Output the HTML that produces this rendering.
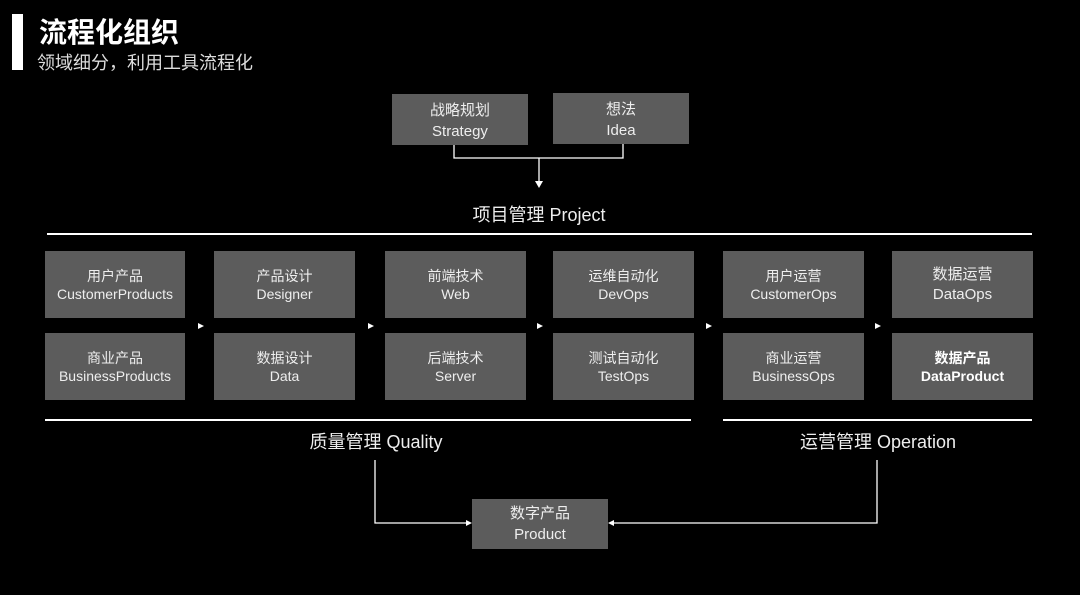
<!DOCTYPE html>
<html><head><meta charset="utf-8"><style>
body{margin:0;width:1080px;height:595px;background:#000;position:relative;overflow:hidden;font-family:"Liberation Sans","Noto Sans CJK SC",sans-serif;color:#fff}
.a{position:absolute}
.b{position:absolute;background:#5c5c5c;color:#eee;display:flex;flex-direction:column;align-items:center;justify-content:center;text-align:center;font-size:14px;line-height:18px}
.t{position:absolute;font-size:18px;color:#eee;white-space:nowrap}
.ln{position:absolute;background:#fff}
</style></head><body>
<div class="ln" style="left:12px;top:14px;width:11px;height:56px"></div>
<div class="t" style="left:39px;top:11px;font-size:28px;color:#fff;font-weight:bold">流程化组织</div>
<div class="t" style="left:37px;top:49px;font-size:18px;color:#ddd">领域细分，利用工具流程化</div>

<div class="b" style="left:392px;top:94px;width:136px;height:51px;font-size:15px;line-height:21px;padding-top:2px;box-sizing:border-box">战略规划<br>Strategy</div>
<div class="b" style="left:553px;top:93px;width:136px;height:51px;font-size:15px;line-height:21px;padding-top:2px;box-sizing:border-box">想法<br>Idea</div>

<svg class="a" style="left:0;top:0" width="1080" height="595">
<g stroke="#fff" stroke-width="1.3" fill="none">
<polyline points="454,145 454,158 623,158 623,144"/>
<line x1="539" y1="158" x2="539" y2="182"/>
<polyline points="375,460 375,523 468,523"/>
<polyline points="877,460 877,523 612,523"/>
</g>
<g fill="#fff">
<polygon points="535,181 543,181 539,188"/>
<polygon points="466,520 472,523 466,526"/>
<polygon points="614,520 608,523 614,526"/>
<polygon points="198,323 198,329 204,326"/>
<polygon points="368,323 368,329 374,326"/>
<polygon points="537,323 537,329 543,326"/>
<polygon points="706,323 706,329 712,326"/>
<polygon points="875,323 875,329 881,326"/>
</g>
</svg>

<div class="t" style="left:0;width:1078px;text-align:center;top:201px">项目管理 Project</div>
<div class="ln" style="left:47px;top:233px;width:985px;height:2px"></div>

<div class="b" style="left:45px;top:251px;width:140px;height:67px">用户产品<br>CustomerProducts</div>
<div class="b" style="left:45px;top:333px;width:140px;height:67px">商业产品<br>BusinessProducts</div>
<div class="b" style="left:214px;top:251px;width:141px;height:67px">产品设计<br>Designer</div>
<div class="b" style="left:214px;top:333px;width:141px;height:67px">数据设计<br>Data</div>
<div class="b" style="left:385px;top:251px;width:141px;height:67px">前端技术<br>Web</div>
<div class="b" style="left:385px;top:333px;width:141px;height:67px">后端技术<br>Server</div>
<div class="b" style="left:553px;top:251px;width:141px;height:67px">运维自动化<br>DevOps</div>
<div class="b" style="left:553px;top:333px;width:141px;height:67px">测试自动化<br>TestOps</div>
<div class="b" style="left:723px;top:251px;width:141px;height:67px">用户运营<br>CustomerOps</div>
<div class="b" style="left:723px;top:333px;width:141px;height:67px">商业运营<br>BusinessOps</div>
<div class="b" style="left:892px;top:251px;width:141px;height:67px;font-size:15px;line-height:20px">数据运营<br>DataOps</div>
<div class="b" style="left:892px;top:333px;width:141px;height:67px;font-weight:bold;color:#fff">数据产品<br>DataProduct</div>

<div class="ln" style="left:45px;top:419px;width:646px;height:2px"></div>
<div class="ln" style="left:723px;top:419px;width:309px;height:2px"></div>
<div class="t" style="left:276px;width:200px;text-align:center;top:428px">质量管理 Quality</div>
<div class="t" style="left:778px;width:200px;text-align:center;top:428px">运营管理 Operation</div>

<div class="b" style="left:472px;top:499px;width:136px;height:50px;font-size:15px;line-height:21px">数字产品<br>Product</div>
</body></html>
